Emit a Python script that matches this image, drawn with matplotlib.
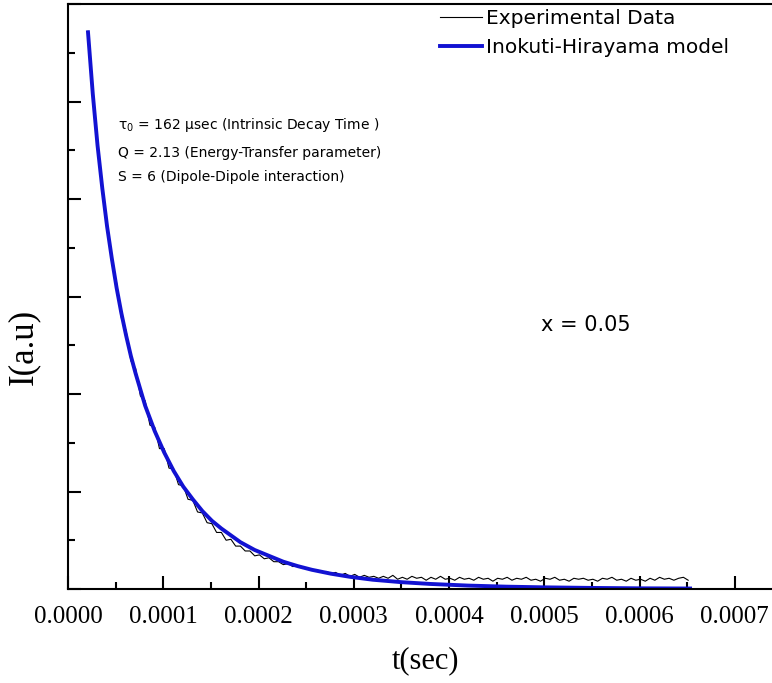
import numpy as np
import matplotlib
matplotlib.use('Agg')
import matplotlib.pyplot as plt
from matplotlib.ticker import MultipleLocator, FormatStrFormatter

# time axis in units of 1e-4 s
t_start = 0.21e-4
t_step = 0.05e-4

# experimental decay (a.u.), sampled every 5 us from 21 us
exp_I = [5.72, 5.05, 4.58, 4.06, 3.77, 3.34, 3.14, 2.78, 2.65, 2.34,
         2.26, 1.98, 1.93, 1.68, 1.66, 1.44, 1.44, 1.24, 1.23, 1.07,
         1.06, 0.92, 0.91, 0.79, 0.78, 0.68, 0.67, 0.58, 0.58, 0.50,
         0.51, 0.44, 0.44, 0.39, 0.39, 0.34, 0.35, 0.31, 0.32, 0.28,
         0.28, 0.25, 0.26, 0.23, 0.24, 0.21, 0.22, 0.19, 0.20, 0.17,
         0.18, 0.16, 0.17, 0.14, 0.16, 0.13, 0.15, 0.12, 0.14, 0.12,
         0.13, 0.11, 0.13, 0.11, 0.14, 0.10, 0.12, 0.10, 0.13, 0.11,
         0.12, 0.09, 0.12, 0.10, 0.13, 0.10, 0.11, 0.09, 0.12, 0.10,
         0.11, 0.09, 0.12, 0.10, 0.11, 0.08, 0.11, 0.10, 0.12, 0.09,
         0.11, 0.10, 0.12, 0.09, 0.10, 0.08, 0.11, 0.10, 0.12, 0.09,
         0.10, 0.08, 0.11, 0.10, 0.11, 0.09, 0.10, 0.08, 0.11, 0.10,
         0.12, 0.09, 0.10, 0.08, 0.11, 0.09, 0.10, 0.08, 0.11, 0.09,
         0.12, 0.10, 0.11, 0.09, 0.11, 0.12, 0.09]
exp_t = t_start + t_step * np.arange(len(exp_I))

# Inokuti-Hirayama fit (t in 1e-4 s)
fit_t = [0.21, 0.26, 0.31, 0.36, 0.41, 0.46, 0.51, 0.56, 0.61, 0.66,
         0.71, 0.81, 0.91, 1.01, 1.11, 1.21, 1.31, 1.41, 1.51, 1.61,
         1.71, 1.81, 1.96, 2.11, 2.26, 2.41, 2.56, 2.76, 2.96, 3.20,
         3.50, 3.80, 4.20, 4.60, 5.00, 5.50, 6.00, 6.53]
fit_I = [5.71, 5.08, 4.55, 4.11, 3.72, 3.39, 3.09, 2.83, 2.60, 2.39,
         2.21, 1.88, 1.62, 1.40, 1.21, 1.05, 0.92, 0.80, 0.70, 0.62,
         0.55, 0.48, 0.40, 0.34, 0.28, 0.235, 0.197, 0.157, 0.125, 0.095,
         0.07, 0.052, 0.035, 0.024, 0.017, 0.011, 0.007, 0.005]
fit_t = np.array(fit_t) * 1e-4

fig = plt.figure(figsize=(7.72, 6.83), dpi=100)
ax = fig.add_axes([68/772, 1-589/683, 1-68/772, 585/683])

ax.plot(exp_t, exp_I, color='black', lw=0.8, label='Experimental Data')
ax.plot(fit_t, fit_I, color='#1212d2', lw=2.8, label='Inokuti-Hirayama model',
        solid_joinstyle='round')

ax.set_xlim(0, 0.000739)
ax.set_ylim(0, 6)

ax.xaxis.set_major_locator(MultipleLocator(0.0001))
ax.xaxis.set_minor_locator(MultipleLocator(0.00005))
ax.xaxis.set_major_formatter(FormatStrFormatter('%.4f'))
ax.yaxis.set_major_locator(MultipleLocator(1))
ax.yaxis.set_minor_locator(MultipleLocator(0.5))
ax.set_yticklabels([])
ax.tick_params(which='both', direction='in', width=1.5, top=False, right=False)
ax.tick_params(which='major', length=9.5)
ax.tick_params(which='minor', length=5)
ax.tick_params(axis='x', labelsize=18, pad=12)
for lab in ax.get_xticklabels():
    lab.set_family('Liberation Serif')

for s in ['left', 'bottom', 'top']:
    ax.spines[s].set_linewidth(1.5)
ax.spines['right'].set_visible(False)

ax.set_xlabel('t(sec)', fontsize=22, family='Liberation Serif', labelpad=12)
ax.xaxis.set_label_coords(0.508, -0.098)
ax.set_ylabel('I(a.u)', fontsize=25, family='Liberation Serif')
ax.yaxis.set_label_coords(-0.040, 0.414)

ax.legend(loc='upper left', bbox_to_anchor=(431/772, 1.0), bbox_transform=fig.transFigure,
          frameon=False, fontsize=14.5, handlelength=2.1, handletextpad=0.2,
          borderaxespad=0, borderpad=0.45, labelspacing=0.5)

ax.text(118/772, 1-125/683, 'τ$_0$ = 162 µsec (Intrinsic Decay Time )',
        transform=fig.transFigure, fontsize=10, va='center')
ax.text(118/772, 1-153/683, 'Q = 2.13 (Energy-Transfer parameter)',
        transform=fig.transFigure, fontsize=10, va='center')
ax.text(118/772, 1-177/683, 'S = 6 (Dipole-Dipole interaction)',
        transform=fig.transFigure, fontsize=10, va='center')
ax.text(541/772, 1-325/683, 'x = 0.05', transform=fig.transFigure,
        fontsize=15, va='center')

fig.savefig('out.png', dpi=100)
